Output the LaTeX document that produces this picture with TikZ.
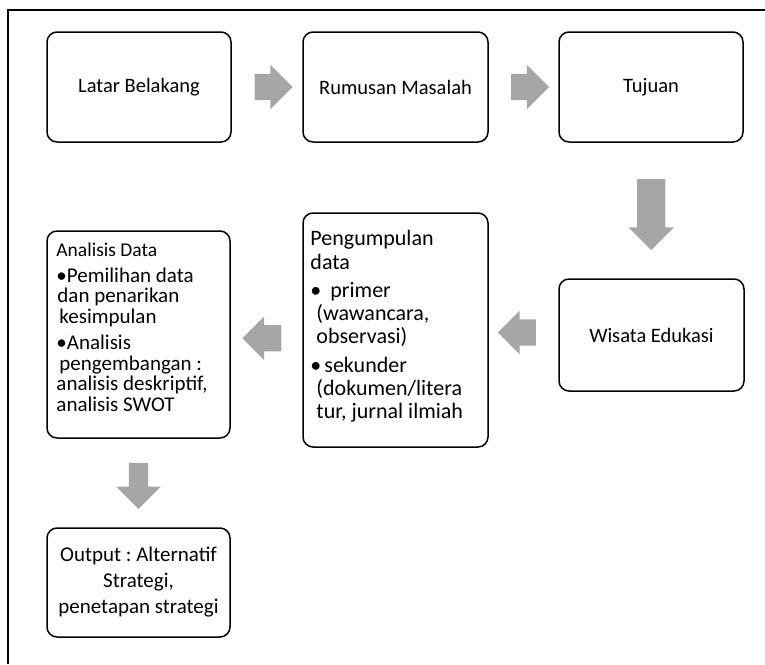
\documentclass[tikz,border=0pt]{standalone}
\usepackage{fontspec}
\setmainfont{Carlito}
\usetikzlibrary{shapes.arrows,calc}
\definecolor{abu}{RGB}{166,166,166}
\frenchspacing
\tikzset{
  kotak/.style={draw, line width=1.5pt, rounded corners=10pt, minimum width=184pt, minimum height=110pt, font=\fontsize{20.5}{25}\selectfont, align=center},
  daftar/.style={inner sep=0pt, align=left},
  panah/.style={single arrow, fill=abu, draw=none, inner xsep=0pt, inner ysep=13pt, single arrow head extend=9pt, minimum height=38pt}
}
\begin{document}
\begin{tikzpicture}[x=1pt,y=-1pt]
\useasboundingbox (0,0) rectangle (765,664);
\draw[line width=1.5pt] (765,10) -- (8,10) -- (8,664);

% baris atas
\node[kotak] (lb) at (139,87) {Latar Belakang};
\node[kotak, minimum width=185pt] (rm) at (395.5,87) {Rumusan Masalah};
\node[kotak] (tj) at (651,87) {Tujuan};

% baris tengah
\node[kotak, minimum width=185pt, minimum height=112pt] (we) at (651.5,335) {Wisata Edukasi};
\node[kotak, minimum width=185pt, minimum height=234pt] (pd) at (395.5,330) {};
\node[kotak, minimum width=183pt, minimum height=207pt] (ad) at (138.5,334.5) {};

% bawah
\node[kotak, minimum width=183pt, minimum height=109pt, font=\fontsize{21}{26}\selectfont] (op) at (138.5,582.5) {Output : Alternatif\\Strategi,\\penetapan strategi};

% isi kotak
\node[daftar, anchor=north west, font=\fontsize{22}{23.3}\selectfont] (pdisi) at ($(pd.north west)+(8,18)$) {Pengumpulan\\
data\\[5pt]
\textbullet\hspace{9pt}primer\\
\hspace*{6pt}(wawancara,\\
\hspace*{6pt}observasi)\\[5pt]
\textbullet\hspace{3pt}sekunder\\
\hspace*{6pt}(dokumen/litera\\
\hspace*{6pt}tur, jurnal ilmiah};
\node[daftar, anchor=north west, font=\fontsize{21}{20.5}\selectfont] (adisi) at ($(ad.north west)+(10,13)$) {{\fontsize{19.5}{20.5}\selectfont Analisis Data}\\[5pt]
\textbullet Pemilihan data\\
\hspace*{1pt}dan penarikan\\
\hspace*{3pt}kesimpulan\\[6pt]
\textbullet Analisis\\
\hspace*{3pt}pengembangan :\\
analisis deskriptif,\\
analisis SWOT};

% panah blok
\node[panah] (p1) at ($(lb.east)!.5!(rm.west)$) {};
\node[panah] (p2) at ($(rm.east)!.5!(tj.west)$) {};
\node[panah, rotate=-90, inner ysep=14pt, single arrow head extend=8.5pt, minimum height=71pt] (p3) at ($(tj.south)!.5!(we.north)+(0,-3)$) {};
\node[panah, rotate=180, single arrow head extend=8.5pt] (p4) at ($(we.west)!.5!(pd.east)$) {};
\node[panah, rotate=180, single arrow head extend=8.5pt, minimum height=39pt] (p5) at ($(pd.west)!.5!(ad.east)+(2,6)$) {};
\node[panah, rotate=-90, inner ysep=9.5pt, single arrow head extend=12.5pt, minimum height=46pt] (p6) at ($(ad.south)!.5!(op.north)+(0,-2)$) {};
\end{tikzpicture}
\end{document}
